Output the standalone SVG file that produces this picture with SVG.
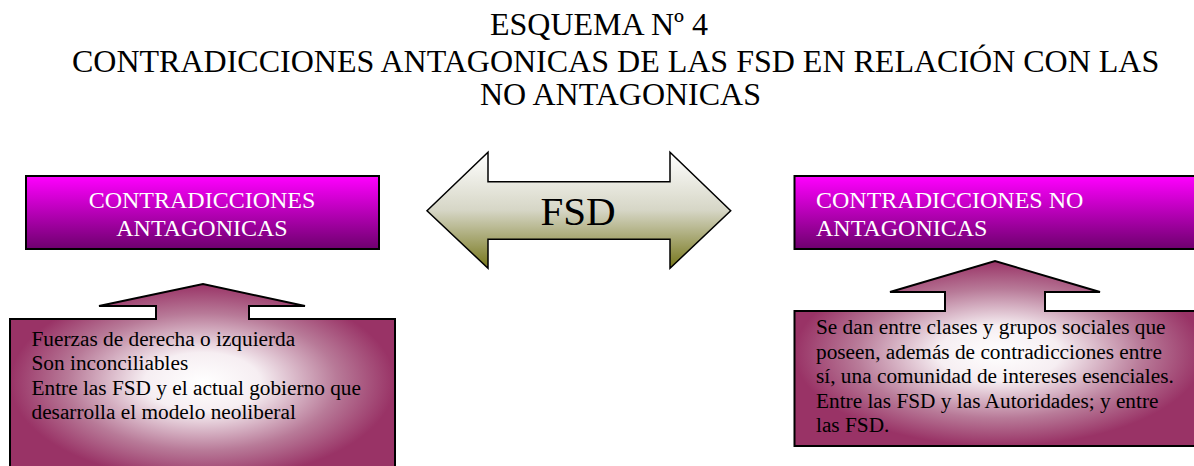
<svg xmlns="http://www.w3.org/2000/svg" width="1194" height="466" viewBox="0 0 1194 466">
<style>
.title{font-family:"Liberation Serif","Times New Roman",serif;font-size:32px;fill:#000}
.hdr{font-family:"Liberation Serif","Times New Roman",serif;font-size:24px;fill:#fff}
.body{font-family:"Liberation Serif","Times New Roman",serif;font-size:21.3px;fill:#000}
.fsd{font-family:"Liberation Serif","Times New Roman",serif;font-size:41px;fill:#000}
.hbox{fill:url(#gHdr);stroke:#000;stroke-width:2}
.lbox{fill:url(#gBody);stroke:#000;stroke-width:2}
</style>
<defs>
<linearGradient id="gHdr" x1="0" y1="0" x2="0" y2="1">
<stop offset="0" stop-color="#ff00ff"/>
<stop offset="1" stop-color="#6e006e"/>
</linearGradient>
<radialGradient id="gBody" cx="0.5" cy="0.5" r="0.5">
<stop offset="0" stop-color="#ffffff"/>
<stop offset="0.3" stop-color="#f6eef2"/>
<stop offset="0.7" stop-color="#b87a98"/>
<stop offset="1" stop-color="#993366"/>
</radialGradient>
<linearGradient id="gArrow" x1="0" y1="0" x2="0" y2="1">
<stop offset="0" stop-color="#ffffff"/>
<stop offset="0.5" stop-color="#d6d6c6"/>
<stop offset="1" stop-color="#76761a"/>
</linearGradient>
</defs>

<g id="title">
<text class="title" x="490" y="35">ESQUEMA Nº 4</text>
<text class="title" x="72" y="72">CONTRADICCIONES ANTAGONICAS DE LAS FSD EN RELACIÓN CON LAS</text>
<text class="title" x="480" y="105">NO ANTAGONICAS</text>
</g>

<g id="fsd">
<polygon points="427,210.7 488,152.3 488,181.7 670,181.7 670,152.3 730.7,210.7 670,268.3 670,239.3 488,239.3 488,268.3" fill="url(#gArrow)" stroke="#000" stroke-width="1.5"/>
<text class="fsd" x="578" y="225" text-anchor="middle">FSD</text>
</g>

<g id="antagonicas">
<rect class="hbox" x="26" y="176" width="353" height="73"/>
<text class="hdr" x="202" y="208" text-anchor="middle">CONTRADICCIONES</text>
<text class="hdr" x="202" y="236" text-anchor="middle">ANTAGONICAS</text>
</g>

<g id="no-antagonicas">
<rect class="hbox" x="794.5" y="176" width="410" height="73"/>
<text class="hdr" x="816" y="208">CONTRADICCIONES NO</text>
<text class="hdr" x="816" y="236">ANTAGONICAS</text>
</g>

<g id="antagonicas-detalle">
<polygon class="lbox" points="10,319 156,319 156,306 99,306 203,284 305,306 249,306 249,319 395,319 395,480 10,480"/>
<text class="body" x="31.5" y="346">Fuerzas de derecha o izquierda</text>
<text class="body" x="31.5" y="370">Son inconciliables</text>
<text class="body" x="31.5" y="395">Entre las FSD y el actual gobierno que</text>
<text class="body" x="31.5" y="419">desarrolla el modelo neoliberal</text>
</g>

<g id="no-antagonicas-detalle">
<polygon class="lbox" points="794.5,311 945,311 945,292 890,292 995,261 1100,292 1045,292 1045,311 1204,311 1204,446 794.5,446"/>
<text class="body" x="816" y="334">Se dan entre clases y grupos sociales que</text>
<text class="body" x="816" y="358.5">poseen, además de contradicciones entre</text>
<text class="body" x="816" y="383">sí, una comunidad de intereses esenciales.</text>
<text class="body" x="816" y="407.5">Entre las FSD y las Autoridades; y entre</text>
<text class="body" x="816" y="432">las FSD.</text>
</g>

<g id="connectors"></g>
</svg>
